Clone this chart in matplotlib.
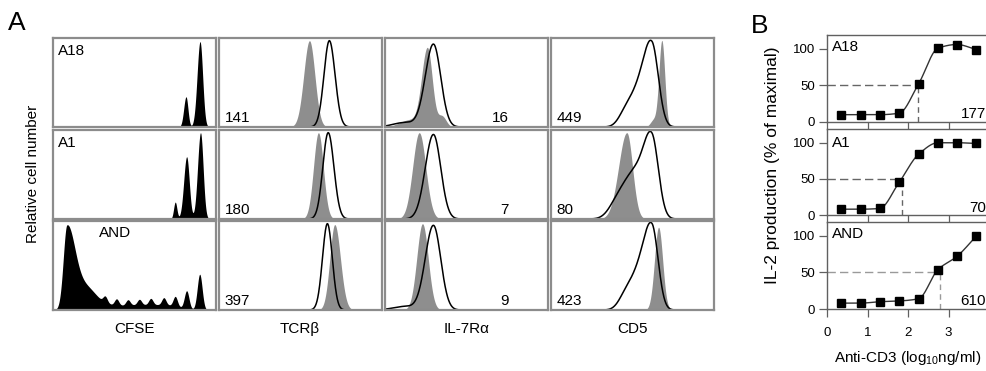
import numpy as np
import matplotlib
matplotlib.use('Agg')
import matplotlib.pyplot as plt

plt.rcParams['font.family'] = ['Liberation Sans', 'DejaVu Sans']
plt.rcParams['mathtext.fontset'] = 'custom'
plt.rcParams['mathtext.rm'] = 'Liberation Sans'
plt.rcParams['mathtext.it'] = 'Liberation Sans:italic'

# ---- panel A: histogram peaks
# each peak = (centre, sd left, sd right, height), x and height as fraction of the box
clones = ['A18', 'A1', 'AND']
markers = ['CFSE', 'TCRβ', 'IL-7Rα', 'CD5']

cfse_peaks = [
    [(0.816, 0.014, 0.012, 0.34), (0.902, 0.018, 0.016, 0.96)],
    [(0.750, 0.010, 0.010, 0.19), (0.820, 0.018, 0.016, 0.70), (0.905, 0.018, 0.016, 0.97)],
    [(0.085, 0.022, 0.050, 0.92), (0.200, 0.060, 0.060, 0.22),
     (0.30, 0.08, 0.08, 0.05), (0.50, 0.10, 0.10, 0.05), (0.70, 0.10, 0.08, 0.05),
     (0.32, 0.013, 0.013, 0.07), (0.39, 0.013, 0.013, 0.07), (0.46, 0.013, 0.013, 0.06),
     (0.53, 0.013, 0.013, 0.06), (0.60, 0.013, 0.013, 0.07), (0.68, 0.013, 0.013, 0.08),
     (0.75, 0.013, 0.013, 0.11), (0.82, 0.014, 0.014, 0.20), (0.90, 0.015, 0.015, 0.40)],
]

tcr_grey = [[(0.555, 0.035, 0.033, 0.97)], [(0.610, 0.030, 0.030, 0.97)], [(0.710, 0.030, 0.035, 0.96)]]
tcr_open = [[(0.677, 0.033, 0.035, 0.97)], [(0.670, 0.033, 0.035, 0.97)], [(0.665, 0.030, 0.030, 0.97)]]

il7r_grey = [[(0.260, 0.035, 0.030, 0.88), (0.15, 0.06, 0.06, 0.08), (0.35, 0.025, 0.025, 0.12)],
             [(0.210, 0.040, 0.040, 0.97)],
             [(0.230, 0.035, 0.035, 0.97)]]
il7r_open = [[(0.297, 0.050, 0.045, 0.93), (0.12, 0.07, 0.07, 0.05)],
             [(0.297, 0.050, 0.045, 0.95)],
             [(0.297, 0.050, 0.045, 0.95), (0.12, 0.07, 0.07, 0.04)]]

cd5_grey = [[(0.680, 0.018, 0.018, 0.97), (0.63, 0.02, 0.02, 0.08)],
            [(0.465, 0.050, 0.035, 0.97)],
            [(0.660, 0.025, 0.025, 0.93)]]
cd5_open = [[(0.620, 0.050, 0.040, 0.87), (0.53, 0.055, 0.055, 0.35), (0.45, 0.04, 0.04, 0.10)],
            [(0.620, 0.050, 0.040, 0.82), (0.51, 0.070, 0.070, 0.50), (0.40, 0.05, 0.05, 0.12)],
            [(0.620, 0.050, 0.038, 0.88), (0.53, 0.055, 0.055, 0.35), (0.45, 0.04, 0.04, 0.10)]]

tcr_mfi = ['141', '180', '397']
il7r_mfi = ['16', '7', '9']
cd5_mfi = ['449', '80', '423']

# ---- panel B: IL-2 dose response
log_dose = [0.35, 0.83, 1.30, 1.78, 2.26, 2.74, 3.21, 3.69]
il2_a18 = [10, 10, 10, 12, 52, 101, 106, 99]
il2_a1 = [8, 8, 9, 45, 84, 100, 100, 99]
il2_and = [8, 8, 10, 11, 14, 54, 72, 100]
ec50 = [177, 70, 610]
ec50_dash = ['#666666', '#666666', '#9a9a9a']


def density(x, peaks):
    y = np.zeros_like(x)
    for c, sl, sr, h in peaks:
        s = np.where(x < c, sl, sr)
        y += h * np.exp(-0.5 * ((x - c) / s) ** 2)
    return y


def pchip(x, y, xs):
    # monotone cubic line through the points (like the smooth line of the plot program)
    x = np.asarray(x, float)
    y = np.asarray(y, float)
    h = np.diff(x)
    d = np.diff(y) / h
    m = np.zeros_like(y)
    m[0], m[-1] = d[0], d[-1]
    for k in range(1, len(x) - 1):
        if d[k - 1] * d[k] > 0:
            w1 = 2 * h[k] + h[k - 1]
            w2 = h[k] + 2 * h[k - 1]
            m[k] = (w1 + w2) / (w1 / d[k - 1] + w2 / d[k])
    i = np.clip(np.searchsorted(x, xs) - 1, 0, len(x) - 2)
    t = (xs - x[i]) / h[i]
    h00 = 2 * t**3 - 3 * t**2 + 1
    h10 = t**3 - 2 * t**2 + t
    h01 = -2 * t**3 + 3 * t**2
    h11 = t**3 - t**2
    return h00 * y[i] + h10 * h[i] * m[i] + h01 * y[i + 1] + h11 * h[i] * m[i + 1]


W, H = 987, 371
fig = plt.figure(figsize=(W / 100, H / 100), dpi=100)


def box(left, top, w, h):
    return fig.add_axes([left / W, 1 - (top + h) / H, w / W, h / H])


col_left = [53, 219, 385, 551]
row_top = [38, 130, 221]
xs = np.linspace(0, 1, 600)
grey = '#8e8e8e'

for r in range(3):
    for c in range(4):
        ax = box(col_left[c], row_top[r], 163, 89)
        ax.set_xlim(0, 1)
        ax.set_ylim(0, 1)
        ax.set_xticks([])
        ax.set_yticks([])
        for sp in ax.spines.values():
            sp.set_color('#8c8c8c')
            sp.set_linewidth(1.6)
        if c == 0:
            ax.fill_between(xs, 0, density(xs, cfse_peaks[r]), color='black', lw=0)
            if r < 2:
                ax.text(0.03, 0.85, clones[r], transform=ax.transAxes, fontsize=11, va='center')
            else:
                ax.text(0.28, 0.87, clones[r], transform=ax.transAxes, fontsize=11, va='center')
            continue
        g, o, lab = [(tcr_grey, tcr_open, tcr_mfi), (il7r_grey, il7r_open, il7r_mfi),
                     (cd5_grey, cd5_open, cd5_mfi)][c - 1]
        ax.fill_between(xs, 0, density(xs, g[r]), color=grey, lw=0)
        ax.plot(xs, density(xs, o[r]), color='black', lw=1.1)
        if c == 2:
            ax.text(0.76, 0.1, lab[r], transform=ax.transAxes, fontsize=11, va='center', ha='right')
        else:
            ax.text(0.035, 0.1, lab[r], transform=ax.transAxes, fontsize=11, va='center')

label_x = [135, 300, 467, 632]
for c in range(4):
    fig.text(label_x[c] / W, 1 - 329 / H, markers[c], fontsize=11, ha='center', va='center')
fig.text(33 / W, 1 - 174 / H, 'Relative cell number', fontsize=11, rotation=90, ha='center', va='center')
fig.text(8 / W, 1 - 23 / H, 'A', fontsize=19, va='center')
fig.text(751 / W, 1 - 26 / H, 'B', fontsize=19, va='center')

# ---- panel B
b_top = [35, 129, 222]
b_h = [87, 86, 87]
il2 = [il2_a18, il2_a1, il2_and]
num_y = [11, 10, 11]
name_y = [103, 99, 103]
xx = np.linspace(log_dose[0], log_dose[-1], 300)
for r in range(3):
    ax = box(827, b_top[r], 162, b_h[r])
    ax.set_xlim(0, 4)
    ax.set_ylim(0, 119)
    for sp in ax.spines.values():
        sp.set_color('#606060')
        sp.set_linewidth(1.0)
    ax.set_yticks([0, 50, 100])
    ax.set_xticks([0, 1, 2, 3, 4])
    ax.tick_params(direction='out', length=5.5, width=0.9, color='#606060', labelsize=9.5)
    ax.tick_params(axis='y', pad=3)
    if r < 2:
        ax.tick_params(axis='x', labelbottom=False)
    else:
        ax.tick_params(axis='x', pad=7.5)
        ax.set_xlabel('Anti-CD3 (log$_{10}$ng/ml)', fontsize=11, labelpad=7)
    lx = np.log10(ec50[r])
    ax.plot([0, lx], [50, 50], color=ec50_dash[r], lw=1.0, dashes=(6, 3))
    ax.plot([lx, lx], [0, 50], color=ec50_dash[r], lw=1.0, dashes=(4, 3))
    ax.plot(xx, pchip(log_dose, il2[r], xx), color='#333333', lw=1.0)
    ax.plot(log_dose, il2[r], 's', color='black', ms=6, clip_on=False)
    ax.text(0.12, name_y[r], clones[r], fontsize=11, va='center')
    ax.text(3.93, num_y[r], str(ec50[r]), fontsize=11, va='center', ha='right')

fig.text(773 / W, 1 - 165 / H, 'IL-2 production (% of maximal)', fontsize=12.5, rotation=90,
         ha='center', va='center')

fig.savefig('out.png', dpi=100)
